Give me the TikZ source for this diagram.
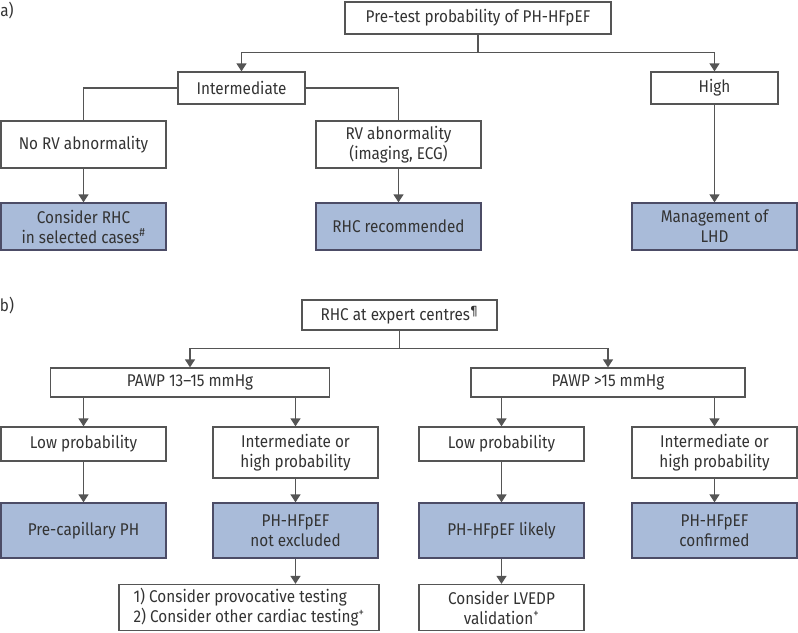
\documentclass[tikz,border=0pt]{standalone}
\usepackage{fontspec}
\setmainfont[FakeStretch=0.9]{Fira Sans}
\usetikzlibrary{arrows.meta}
\definecolor{boxblue}{HTML}{A9BBD9}
\definecolor{edge}{HTML}{555555}
\definecolor{txt}{HTML}{333333}
\tikzset{
  box/.style={draw=edge, line width=1.3pt, inner sep=0pt, align=center, text=txt,
    font=\fontsize{17}{20}\selectfont},
  bluebox/.style={box, fill=boxblue, draw=edge!90!blue},
  conn/.style={draw=edge, line width=1.3pt},
  arr/.style={conn, -{Triangle[width=10pt,length=8pt]}},
  lbl/.style={text=txt, inner sep=0pt, font=\fontsize{17}{20}\selectfont}
}
\begin{document}
\begin{tikzpicture}[x=1pt,y=-1pt]
\useasboundingbox (0,0) rectangle (798,632);
% panel a
\node[lbl] (la) at (7,11) {a)};
\node[box, minimum width=266pt, minimum height=32pt] (top) at (478,18) {Pre-test probability of PH-HFpEF};
\node[box, minimum width=127pt, minimum height=32pt] (int) at (241.5,88) {Intermediate};
\node[box, minimum width=127pt, minimum height=32pt] (high) at (714.5,88) {High};
\node[box, minimum width=165pt, minimum height=47pt] (norv) at (83.5,144.5) {No RV abnormality};
\node[box, minimum width=165pt, minimum height=47pt] (rv) at (398.5,144.5) {RV abnormality\\(imaging, ECG)};
\node[bluebox, minimum width=165pt, minimum height=47pt] (c1) at (83.5,226.5) {Consider RHC\\in selected cases\textsuperscript{\#}};
\node[bluebox, minimum width=165pt, minimum height=47pt] (c2) at (398.5,226.5) {RHC recommended};
\node[bluebox, minimum width=165pt, minimum height=47pt] (c3) at (714.5,226.5) {Management of\\LHD};
\draw[arr] (top.south) -- ++(0,18) -| (int.north);
\draw[arr] (top.south) -- ++(0,18) -| (high.north);
\draw[conn] (int.west) -| (norv.north);
\draw[conn] (int.east) -| (rv.north);
\draw[arr] (norv.south) -- (c1.north);
\draw[arr] (rv.south) -- (c2.north);
\draw[arr] (high.south) -- (c3.north);
% panel b
\node[lbl] (lb) at (7,306) {b)};
\node[box, minimum width=195pt, minimum height=30pt] (rhc) at (399.5,315) {RHC at expert centres\textsuperscript{¶}};
\node[box, minimum width=279pt, minimum height=29pt] (p1) at (190,382.5) {PAWP 13–15 mmHg};
\node[box, minimum width=274pt, minimum height=29pt] (p2) at (608,382.5) {PAWP >15 mmHg};
\node[box, minimum width=165pt, minimum height=34pt] (l1) at (83.5,444) {Low probability};
\node[box, minimum width=165pt, minimum height=51pt] (i1) at (295.5,452.5) {Intermediate or\\high probability};
\node[box, minimum width=165pt, minimum height=34pt] (l2) at (501.5,444) {Low probability};
\node[box, minimum width=165pt, minimum height=51pt] (i2) at (714.5,452.5) {Intermediate or\\high probability};
\node[bluebox, minimum width=165pt, minimum height=55pt] (b1) at (83.5,530.5) {Pre-capillary PH};
\node[bluebox, minimum width=165pt, minimum height=55pt] (b2) at (295.5,530.5) {PH-HFpEF\\not excluded};
\node[bluebox, minimum width=165pt, minimum height=55pt] (b3) at (501.5,530.5) {PH-HFpEF likely};
\node[bluebox, minimum width=165pt, minimum height=55pt] (b4) at (714.5,530.5) {PH-HFpEF\\confirmed};
\node[box, minimum width=260pt, minimum height=46pt, align=left] (t1) at (249,607.5) {1) Consider provocative testing\\2) Consider other cardiac testing\textsuperscript{+}};
\node[box, minimum width=165pt, minimum height=46pt] (t2) at (501.5,607.5) {Consider LVEDP\\validation\textsuperscript{+}};
\draw[arr] (rhc.south) -- ++(0,18) -| (p1.north);
\draw[arr] (rhc.south) -- ++(0,18) -| (p2.north);
\draw[arr] (l1.north |- p1.south) -- (l1.north);
\draw[arr] (i1.north |- p1.south) -- (i1.north);
\draw[arr] (l2.north |- p2.south) -- (l2.north);
\draw[arr] (i2.north |- p2.south) -- (i2.north);
\draw[arr] (l1.south) -- (b1.north);
\draw[arr] (i1.south) -- (b2.north);
\draw[arr] (l2.south) -- (b3.north);
\draw[arr] (i2.south) -- (b4.north);
\draw[arr] (b2.south) -- (b2.south |- t1.north);
\draw[arr] (b3.south) -- (t2.north);
\end{tikzpicture}
\end{document}
